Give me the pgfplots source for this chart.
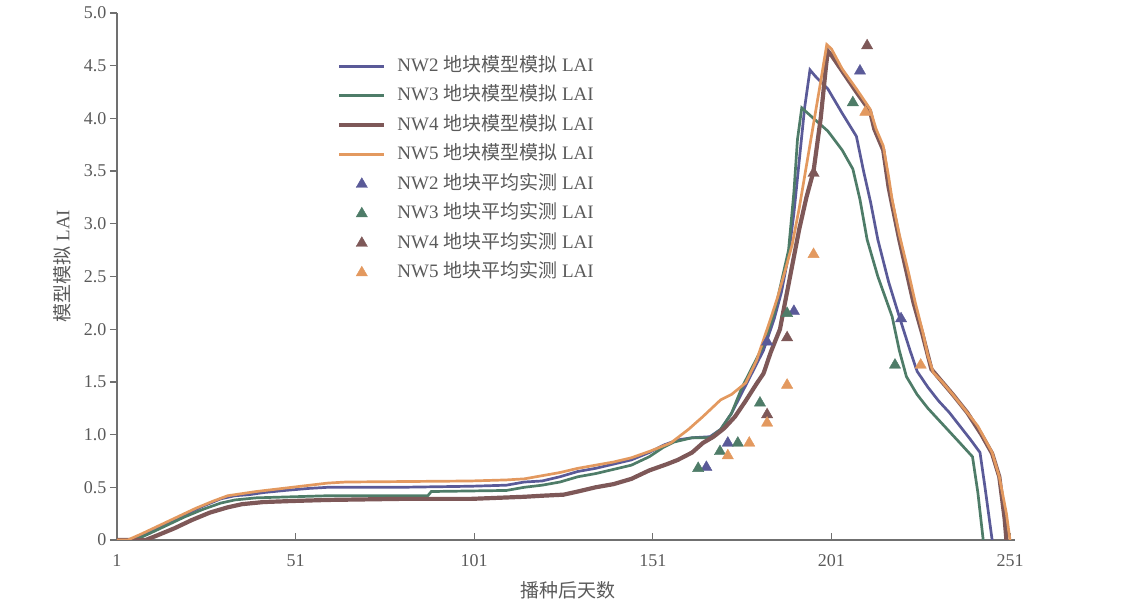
\documentclass[border=0pt]{standalone}
\usepackage{fontspec}
\setmainfont{Liberation Serif}
\newfontfamily\cjk{Noto Sans CJK SC}
\usepackage{pgfplots}
\pgfplotsset{compat=1.18}
\definecolor{cB}{HTML}{5A5A98}
\definecolor{cG}{HTML}{4E7C68}
\definecolor{cR}{HTML}{7E5858}
\definecolor{cO}{HTML}{E3995F}
\definecolor{txt}{HTML}{5A5A5A}
\definecolor{axc}{HTML}{707070}
\begin{document}
\begin{tikzpicture}
\path[use as bounding box] (-117pt,-64pt) rectangle (1014pt,540pt);
\begin{axis}[
  scale only axis, width=898pt, height=527pt,
  xmin=1, xmax=252.4, ymin=0, ymax=5,
  axis x line=bottom, axis y line=left,
  axis line style={axc, line width=1.8pt, -},
  xtick={1,51,101,151,201,251},
  ytick={0,0.5,1,1.5,2,2.5,3,3.5,4,4.5,5},
  yticklabels={0,0.5,1.0,1.5,2.0,2.5,3.0,3.5,4.0,4.5,5.0},
  xticklabels={1,51,101,151,201,251},
  xtick align=inside, ytick align=outside,
  major tick length=7pt,
  tick style={axc, line width=1.3pt},
  ticklabel style={font=\fontsize{18}{20}\selectfont, text=txt},
  xticklabel style={yshift=-11pt},
  xlabel={\cjk 播种后天数},
  xlabel style={font=\fontsize{19}{22}\selectfont, text=txt, at={(axis description cs:0.502,-0.095)}, anchor=center},
  ylabel={{\cjk 模型模拟} LAI},
  ylabel style={font=\fontsize{19}{22}\selectfont, text=txt, at={(axis description cs:-0.061,0.52)}, anchor=center},
  legend image code/.code={\draw[mark repeat=2,mark phase=2,#1] plot coordinates {(0pt,0pt)(22.5pt,0pt)(45pt,0pt)};},
  legend style={draw=none, fill=none, inner sep=0pt, at={(axis description cs:0.245,0.9165)}, anchor=north west,
    font=\fontsize{19}{22}\selectfont, text=txt,
    nodes={inner sep=0pt, text height=14pt, text depth=4pt},
    row sep=11.5pt,
    /tikz/every odd column/.append style={column sep=11pt}},
  legend cell align=left,
]
% NW2 model
\addplot[cB, line width=2.7pt] coordinates {
(1,0)(5,0)(10,0.08)(15,0.16)(20,0.24)(25,0.32)(30,0.39)(34,0.42)(38,0.43)(42,0.45)(48,0.47)(55,0.49)(60,0.50)(80,0.50)(100,0.51)(110,0.52)(115,0.55)(120,0.56)(125,0.60)(130,0.65)(135,0.68)(140,0.72)(145,0.76)(150,0.83)(154,0.90)(158,0.95)(162,0.97)(167,0.98)(170,1.05)(173,1.20)(176,1.40)(179,1.60)(182,1.80)(185,2.10)(187,2.35)(189,2.70)(190.5,3.10)(192,3.60)(193.5,4.10)(195,4.46)(196.5,4.40)(200,4.28)(204,4.05)(208,3.83)(210,3.50)(212,3.20)(214,2.85)(217,2.45)(220,2.12)(223,1.80)(225,1.60)(228,1.45)(231,1.32)(234,1.21)(237,1.08)(240,0.95)(242.6,0.83)(244,0.50)(245,0.25)(246,0)};
\addlegendentry{NW2 {\cjk 地块模型模拟} LAI}
% NW3 model
\addplot[cG, line width=2.7pt] coordinates {
(1,0)(6,0)(10,0.06)(15,0.14)(20,0.22)(25,0.29)(30,0.35)(34,0.38)(40,0.40)(50,0.41)(60,0.42)(88,0.42)(89,0.46)(110,0.47)(115,0.50)(120,0.52)(125,0.55)(130,0.60)(135,0.63)(140,0.67)(145,0.71)(150,0.79)(154,0.88)(157,0.93)(162,0.97)(167,0.97)(170,1.05)(173,1.20)(176,1.45)(179,1.65)(182,1.85)(185,2.15)(187,2.45)(189,2.75)(190.5,3.30)(191.5,3.80)(192.7,4.10)(196,4.00)(200,3.88)(204,3.70)(207,3.52)(209,3.23)(211,2.85)(214,2.50)(218,2.12)(220,1.80)(222,1.55)(225,1.38)(228,1.25)(231,1.14)(234,1.03)(237,0.92)(240.5,0.79)(242,0.45)(243,0.15)(243.5,0)};
\addlegendentry{NW3 {\cjk 地块模型模拟} LAI}
% NW4 model
\addplot[cR, line width=4.2pt] coordinates {
(1,0)(9,0)(12,0.04)(17,0.11)(22,0.19)(27,0.26)(32,0.31)(36,0.34)(42,0.36)(50,0.37)(60,0.38)(80,0.39)(100,0.39)(115,0.41)(120,0.42)(126,0.43)(130,0.46)(135,0.50)(140,0.53)(145,0.58)(150,0.66)(155,0.72)(158,0.76)(162,0.83)(165,0.92)(168,0.98)(171,1.06)(174,1.17)(177,1.32)(180,1.48)(182,1.58)(184,1.78)(186.6,2.00)(188,2.25)(190,2.60)(192,2.95)(194,3.25)(196,3.50)(198,4.00)(199.5,4.50)(200,4.64)(201,4.60)(204,4.45)(208,4.25)(211.8,4.07)(213,3.90)(215.5,3.70)(217,3.35)(218,3.18)(220,2.85)(222,2.55)(224,2.25)(226.5,1.95)(229,1.62)(232,1.50)(235,1.38)(239,1.21)(243,1.00)(246,0.82)(248,0.60)(249.5,0.20)(250,0)};
\addlegendentry{NW4 {\cjk 地块模型模拟} LAI}
% NW5 model
\addplot[cO, line width=2.7pt] coordinates {
(1,0)(4,0)(8,0.06)(13,0.14)(18,0.22)(23,0.30)(28,0.37)(32,0.42)(36,0.44)(40,0.46)(45,0.48)(50,0.50)(55,0.52)(60,0.54)(65,0.55)(100,0.56)(110,0.57)(115,0.58)(120,0.61)(125,0.64)(130,0.68)(135,0.71)(140,0.74)(145,0.78)(150,0.84)(153,0.88)(156,0.92)(161,1.05)(165,1.17)(170,1.33)(173,1.38)(177,1.49)(180,1.70)(182,1.90)(184,2.10)(186,2.31)(188,2.55)(190,2.80)(192,3.15)(194,3.55)(196,3.95)(198,4.35)(199.7,4.70)(201,4.66)(204,4.47)(208,4.28)(211.8,4.09)(213.5,3.90)(215.5,3.74)(217,3.45)(218,3.23)(220,2.90)(222.5,2.55)(224.5,2.25)(226.6,1.97)(228,1.75)(229.5,1.59)(232,1.50)(235,1.38)(239,1.21)(242,1.08)(246,0.83)(248,0.60)(250,0.25)(251,0)};
\addlegendentry{NW5 {\cjk 地块模型模拟} LAI}
% measured
\addplot[only marks, mark=triangle*, mark size=6.5pt, mark options={fill=cB, draw=cB, line width=0.4pt}] coordinates {
(166,0.69)(172,0.92)(183,1.88)(190.5,2.17)(209,4.45)(220.5,2.10)};
\addlegendentry{NW2 {\cjk 地块平均实测} LAI}
\addplot[only marks, mark=triangle*, mark size=6.5pt, mark options={fill=cG, draw=cG, line width=0.4pt}] coordinates {
(163.7,0.68)(169.8,0.84)(174.8,0.92)(181,1.30)(188.6,2.15)(207,4.15)(218.8,1.66)};
\addlegendentry{NW3 {\cjk 地块平均实测} LAI}
\addplot[only marks, mark=triangle*, mark size=6.5pt, mark options={fill=cR, draw=cR, line width=0.4pt}] coordinates {
(183,1.19)(188.6,1.92)(196,3.48)(211,4.69)};
\addlegendentry{NW4 {\cjk 地块平均实测} LAI}
\addplot[only marks, mark=triangle*, mark size=6.5pt, mark options={fill=cO, draw=cO, line width=0.4pt}] coordinates {
(172,0.80)(178,0.92)(183,1.11)(188.6,1.47)(196,2.71)(210.5,4.06)(226,1.66)};
\addlegendentry{NW5 {\cjk 地块平均实测} LAI}
\end{axis}
\end{tikzpicture}
\end{document}
